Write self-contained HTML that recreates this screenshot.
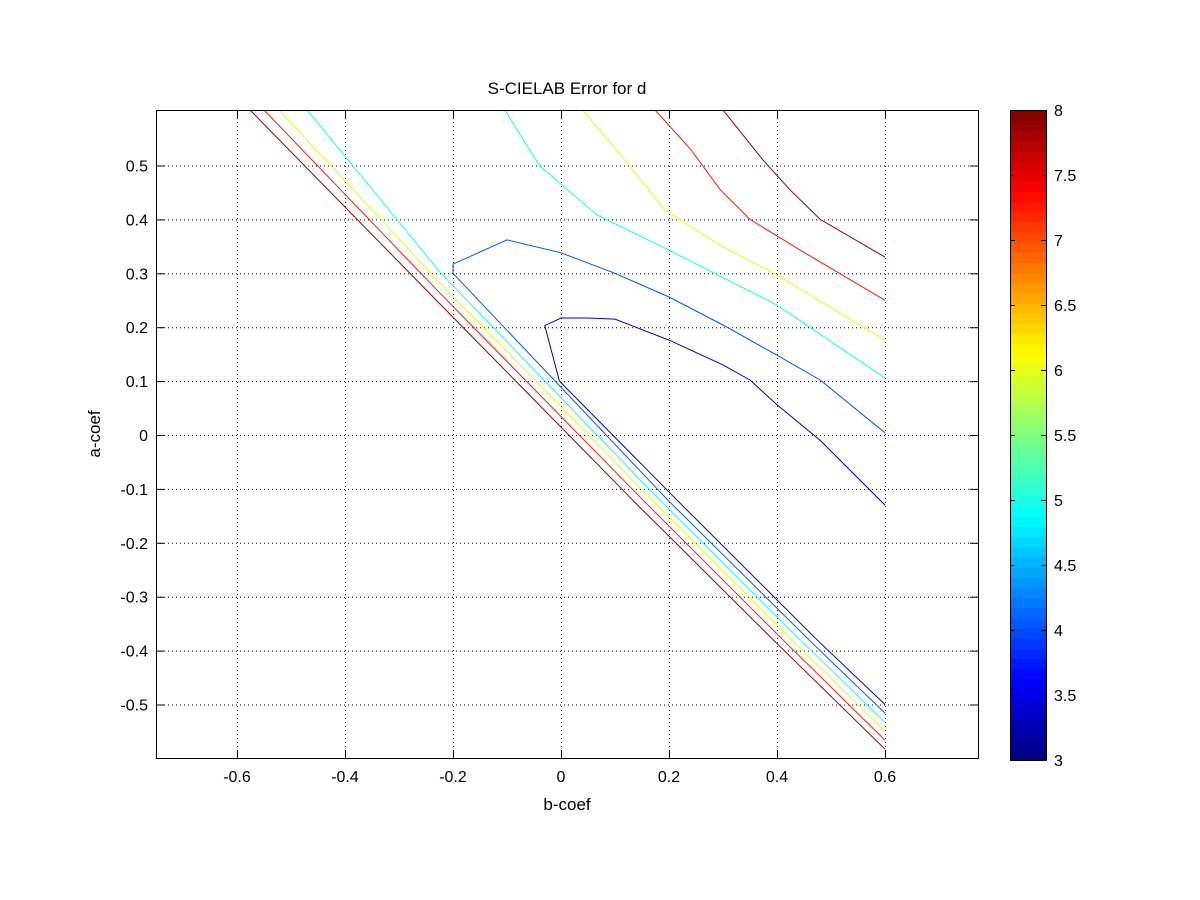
<!DOCTYPE html>
<html><head><meta charset="utf-8"><style>
body{margin:0;background:#fff;}
svg{display:block;font-family:"Liberation Sans",Arial,sans-serif;}
</style></head><body>
<svg id="chart" width="1200" height="900">
<rect x="0" y="0" width="1200" height="900" fill="#fff"/>
</svg>
<script>
const xTicks=[-0.6,-0.4,-0.2,0,0.2,0.4,0.6];
const yTicks=[0.5,0.4,0.3,0.2,0.1,0,-0.1,-0.2,-0.3,-0.4,-0.5];
const cbTicks=[3,3.5,4,4.5,5,5.5,6,6.5,7,7.5,8];
const levelNames=["darkred-upper","red-upper","yellow-upper","cyan-upper","blue-loop","darkblue-loop","darkred-diag","red-diag","yellow-diag","cyan-diag"];
const levelValues=[8,7.3,6,5,4,3.3,8,7.3,6,5];
const lineX=[
[0.30,0.374,0.424,0.48,0.6],
[0.174,0.24,0.295,0.35,0.443,0.6],
[0.04,0.11,0.193,0.295,0.4,0.6],
[-0.104,-0.04,0.067,0.2,0.4,0.6],
[0.6,0.459,0.198,-0.2,-0.2,-0.1,0,0.1,0.2,0.3,0.4,0.48,0.6],
[0.6,0.474,0.215,-0.003,-0.03,0,0.05,0.1,0.2,0.3,0.35,0.4,0.48,0.6],
[-0.576,-0.224,0.133,0.393,0.6],
[-0.55,-0.224,0.152,0.411,0.6],
[-0.522,-0.224,0.169,0.428,0.6],
[-0.47,-0.224,0.183,0.443,0.6]];
const lineY=[
[0.603,0.51,0.455,0.40,0.33],
[0.603,0.53,0.455,0.40,0.343,0.25],
[0.603,0.52,0.417,0.352,0.297,0.176],
[0.603,0.5,0.408,0.343,0.241,0.106],
[-0.516,-0.38,-0.121,0.3,0.317,0.362,0.338,0.30,0.256,0.204,0.148,0.102,0.004],
[-0.5,-0.38,-0.121,0.1,0.203,0.217,0.217,0.215,0.176,0.13,0.102,0.056,-0.01,-0.13],
[0.603,0.243,-0.121,-0.38,-0.583],
[0.603,0.263,-0.121,-0.38,-0.566],
[0.603,0.282,-0.121,-0.38,-0.55],
[0.603,0.302,-0.121,-0.38,-0.533]];
const L=156,R=978,T=110,B=758;
const sx=v=>561+v*540, sy=v=>435-v*539;
const cbTop=110,cbBot=760,cbL=1010,cbR=1046;
const cy=v=>cbBot-(v-3)/5*(cbBot-cbTop);
function jet(t){
  const r=Math.min(Math.max(Math.min(4*t-1.5,-4*t+4.5),0),1);
  const g=Math.min(Math.max(Math.min(4*t-0.5,-4*t+3.5),0),1);
  const b=Math.min(Math.max(Math.min(4*t+0.5,-4*t+2.5),0),1);
  return `rgb(${Math.round(r*255)},${Math.round(g*255)},${Math.round(b*255)})`;
}
const svg=document.getElementById('chart');
const NS="http://www.w3.org/2000/svg";
function mk(tag,attrs,parent){const e=document.createElementNS(NS,tag);for(const k in attrs)e.setAttribute(k,attrs[k]);(parent||svg).appendChild(e);return e;}
const bg=mk('rect',{x:L,y:T,width:R-L,height:B-T,fill:'#fff'});


const defs=mk('defs',{});
const cp=mk('clipPath',{id:'clip'},defs);mk('rect',{x:L,y:T,width:R-L,height:B-T},cp);
const grid=mk('g',{stroke:'#000','stroke-width':1,'stroke-dasharray':'1,3'});


xTicks.forEach(v=>mk('line',{x1:sx(v)+0.5,x2:sx(v)+0.5,y1:T,y2:B},grid));
yTicks.forEach(v=>mk('line',{x1:L,x2:R,y1:sy(v)+0.5,y2:sy(v)+0.5},grid));
const cg=mk('g',{'clip-path':'url(#clip)',fill:'none','stroke-width':1});


lineX.forEach((xs,i)=>{
  const pts=xs.map((x,j)=>sx(x).toFixed(1)+','+sy(lineY[i][j]).toFixed(1)).join(' ');
  const p=mk('polyline',{points:pts,stroke:jet((levelValues[i]-3)/5*0.97+0.015)},cg);
  
  
});
const ax=mk('g',{stroke:'#000','stroke-width':1,fill:'none'});


mk('rect',{x:L+0.5,y:T+0.5,width:R-L,height:B-T},ax);
xTicks.forEach(v=>{const x=sx(v)+0.5;mk('line',{x1:x,x2:x,y1:B,y2:B-8},ax);mk('line',{x1:x,x2:x,y1:T,y2:T+8},ax);});
yTicks.forEach(v=>{const y=sy(v)+0.5;mk('line',{x1:L,x2:L+8,y1:y,y2:y},ax);mk('line',{x1:R,x2:R-8,y1:y,y2:y},ax);});
xTicks.forEach(v=>{const t=mk('text',{x:sx(v),y:B+24,'text-anchor':'middle','font-size':16});t.textContent=String(v);

});
yTicks.forEach(v=>{const t=mk('text',{x:L-8,y:sy(v)+6,'text-anchor':'end','font-size':16});t.textContent=String(v);

});
const xt=mk('text',{x:567,y:810,'text-anchor':'middle','font-size':17});xt.textContent='b-coef';


const yt=mk('text',{x:100,y:434,'text-anchor':'middle','font-size':17,transform:'rotate(-90 100 434)'});yt.textContent='a-coef';


const tt=mk('text',{x:567,y:94,'text-anchor':'middle','font-size':17});tt.textContent='S-CIELAB Error for d';


const cb=mk('g',{});


const n=64,h=(cbBot-cbTop)/n;
for(let i=0;i<n;i++){mk('rect',{x:cbL,y:cbBot-(i+1)*h,width:cbR-cbL,height:h+0.6,fill:jet((i+0.5)/n)},cb);}
mk('rect',{x:cbL+0.5,y:cbTop+0.5,width:cbR-cbL,height:cbBot-cbTop,fill:'none',stroke:'#000'},cb);
cbTicks.forEach(v=>{const y=cy(v)+0.5;mk('line',{x1:cbL,x2:cbL+5,y1:y,y2:y,stroke:'#000'},cb);mk('line',{x1:cbR,x2:cbR-5,y1:y,y2:y,stroke:'#000'},cb);
const t=mk('text',{x:cbR+8,y:cy(v)+6,'font-size':16},cb);t.textContent=String(v);

});
</script>
</body></html>
